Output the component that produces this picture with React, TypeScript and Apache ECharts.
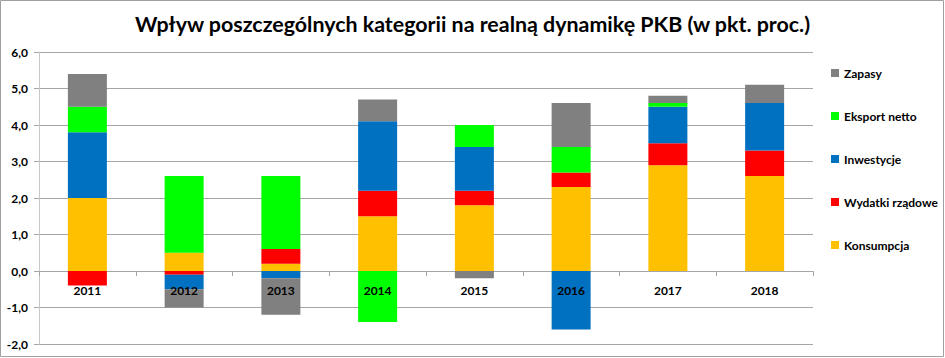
import React, { useEffect, useRef } from "react";
import * as echarts from "echarts";

const categories = ["2011", "2012", "2013", "2014", "2015", "2016", "2017", "2018"];
const konsumpcja = [2.0, 0.5, 0.2, 1.5, 1.8, 2.3, 2.9, 2.6];
const wydatkiRzadowe = [-0.4, -0.1, 0.4, 0.7, 0.4, 0.4, 0.6, 0.7];
const inwestycje = [1.8, -0.4, -0.2, 1.9, 1.2, -1.6, 1.0, 1.3];
const eksportNetto = [0.7, 2.1, 2.0, -1.4, 0.6, 0.7, 0.1, 0.0];
const zapasy = [0.9, -0.5, -1.0, 0.6, -0.2, 1.2, 0.2, 0.5];

const seriesNames = ["Konsumpcja", "Wydatki rządowe", "Inwestycje", "Eksport netto", "Zapasy"];
const seriesColors = ["#FFC000", "#FF0000", "#0070C0", "#00FF00", "#808080"];
const seriesData = [konsumpcja, wydatkiRzadowe, inwestycje, eksportNetto, zapasy];

const FONT = "Lato, 'Open Sans', sans-serif";

const Y_MIN = -2;
const Y_MAX = 6;
const GRID_TOP = 52;
const GRID_BOTTOM = 14;
const CHART_H = 358;

export default function App() {
  const ref = useRef<HTMLDivElement>(null);
  useEffect(() => {
    if (!ref.current) return;
    const chart = echarts.init(ref.current, null, { renderer: "svg" });
    const plotH = CHART_H - GRID_TOP - GRID_BOTTOM;
    const zeroOffset = -(plotH * (0 - Y_MIN)) / (Y_MAX - Y_MIN);
    chart.setOption({
      animation: false,
      backgroundColor: "#ffffff",
      title: {
        text: "Wpływ poszczególnych kategorii na realną dynamikę PKB (w pkt. proc.)",
        left: "center",
        top: 8,
        textStyle: { fontFamily: FONT, fontSize: 21.4, fontWeight: "bold", color: "#000" },
      },
      legend: {
        orient: "vertical",
        left: 826,
        top: 62,
        itemWidth: 8,
        itemHeight: 8,
        itemGap: 31,
        icon: "rect",
        data: [...seriesNames].reverse(),
        textStyle: { fontFamily: FONT, fontSize: 12, fontWeight: "bold", color: "#000" },
      },
      grid: { left: 39, right: 132, top: GRID_TOP, bottom: GRID_BOTTOM, containLabel: false },
      xAxis: {
        type: "category",
        data: categories,
        z: 10,
        position: "bottom",
        offset: zeroOffset,
        axisLine: { show: true, onZero: false, lineStyle: { color: "rgba(0,0,0,0)" } },
        axisTick: { show: true, length: 5, lineStyle: { color: "#a6a6a6" } },
        axisLabel: { margin: 13, fontFamily: FONT, fontSize: 12, fontWeight: "bold", color: "#000" },
      },
      yAxis: {
        type: "value",
        min: Y_MIN,
        max: Y_MAX,
        interval: 1,
        axisLine: { show: true, lineStyle: { color: "#c8c8c8" } },
        axisTick: { show: true, length: 5, lineStyle: { color: "#a6a6a6" } },
        splitLine: { show: true, lineStyle: { color: "#a6a6a6", width: 1 } },
        axisLabel: {
          margin: 11,
          fontFamily: FONT,
          fontSize: 12,
          fontWeight: "bold",
          color: "#000",
          formatter: (v: number) => v.toFixed(1).replace(".", ","),
        },
      },
      graphic: [
        {
          type: "rect",
          shape: { x: 0.5, y: 0.5, width: 943, height: 356 },
          style: { fill: "none", stroke: "#a0a0a0", lineWidth: 1 },
          silent: true,
        },
      ],
      series: seriesNames.map((name, i) => ({
        name,
        type: "bar",
        stack: "total",
        barWidth: 39,
        itemStyle: { color: seriesColors[i] },
        data: seriesData[i],
      })),
    });
    return () => chart.dispose();
  }, []);
  return (
    <div
      ref={ref}
      style={{ position: "absolute", left: 0, top: 0, width: 945, height: 358 }}
    />
  );
}
